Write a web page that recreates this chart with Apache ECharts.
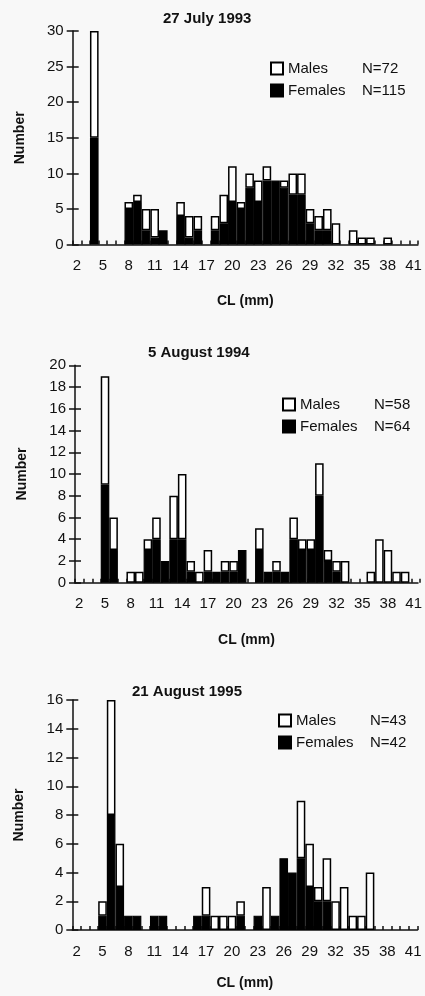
<!DOCTYPE html>
<html><head><meta charset="utf-8">
<script src="https://cdn.jsdelivr.net/npm/echarts@6/dist/echarts.min.js"></script>
<style>html,body{margin:0;padding:0;background:#f8f8f8}#c{width:425px;height:996px}</style>
</head><body><div id="c"></div>
<script>
const categories = ['2','3','4','5','6','7','8','9','10','11','12','13','14','15','16','17','18','19','20','21','22','23','24','25','26','27','28','29','30','31','32','33','34','35','36','37','38','39','40','41'];

const titles = ['27 July 1993', '5 August 1994', '21 August 1995'];
const maleN = ['N=72', 'N=58', 'N=43'];
const femaleN = ['N=115', 'N=64', 'N=42'];
const yMax = [30, 20, 16];
const yStep = [5, 2, 2];

const females1993 = [0,0,15,0,0,0,5,6,2,1, 2,0,4,1,2,0,2,3,6,5, 8,6,9,9,8,7,7,3,2,2, 0,0,0,0,0,0,0,0,0,0];
const males1993   = [0,0,15,0,0,0,1,1,3,4, 0,0,2,3,2,0,2,4,5,1, 2,3,2,0,1,3,3,2,2,3, 3,0,2,1,1,0,1,0,0,0];
const females1994 = [0,0,0,9,3,0,0,0,3,4, 2,4,4,1,0,1,1,1,1,3, 0,3,1,1,1,4,3,3,8,2, 1,0,0,0,0,0,0,0,0,0];
const males1994   = [0,0,0,10,3,0,1,1,1,2, 0,4,6,1,1,2,0,1,1,0, 0,2,0,1,0,2,1,1,3,1, 1,2,0,0,1,4,3,1,1,0];
const females1995 = [0,0,0,1,8,3,1,1,0,1, 1,0,0,0,1,1,0,0,0,1, 0,1,0,1,5,4,5,3,2,2, 0,0,0,0,0,0,0,0,0,0];
const males1995   = [0,0,0,1,8,3,0,0,0,0, 0,0,0,0,0,2,1,1,1,1, 0,0,3,0,0,0,4,3,1,3, 2,3,1,1,4,0,0,0,0,0];

const femalesAll = [females1993, females1994, females1995];
const malesAll = [males1993, males1994, males1995];

const grids = [
  {left: 72.7, top: 31, width: 345.2, height: 213.6},
  {left: 75, top: 365.3, width: 345.2, height: 217.4},
  {left: 72.3, top: 700, width: 345.2, height: 230}
];
const titlePos = [[158, 6], [143, 340], [127, 679]];
const legendPos = [[265, 56], [277, 392], [273, 708]];
const xNameGap = [50, 50, 46];

const FONT = '"Liberation Sans", Arial, sans-serif';
const INK = '#111';
const CLEAR = 'rgba(0,0,0,0)';

const nz = a => a.map(v => v === 0 ? null : v);

const option = {
  backgroundColor: '#f8f8f8',
  animation: false,
  textStyle: {fontFamily: FONT, color: INK},
  title: titles.map((t, i) => ({
    text: t, left: titlePos[i][0], top: titlePos[i][1],
    textStyle: {fontFamily: FONT, fontWeight: 'bold', fontSize: 15, color: INK}
  })),
  legend: titles.map((t, i) => ({
    orient: 'vertical', left: legendPos[i][0], top: legendPos[i][1],
    icon: 'rect',
    itemWidth: 12, itemHeight: 12, itemGap: 7, data: ['Males', 'Females'],
    selectedMode: false,
    formatter: name => name === 'Males' ? '{a|Males}{b|' + maleN[i] + '}' : '{a|Females}{b|' + femaleN[i] + '}',
    textStyle: {fontFamily: FONT, fontSize: 15, color: INK,
      rich: {a: {width: 74, fontSize: 15, fontFamily: FONT, color: INK}, b: {fontSize: 15, fontFamily: FONT, color: INK}}}
  })),
  grid: grids.concat(grids.map(g => Object.assign({}, g))),
  xAxis: [],
  yAxis: [],
  series: []
};

for (let i = 0; i < 3; i++) {
  option.xAxis.push({
    type: 'category', gridIndex: i, data: categories, position: 'bottom',
    name: 'CL (mm)', nameLocation: 'middle', nameGap: xNameGap[i],
    nameTextStyle: {fontFamily: FONT, fontWeight: 'bold', fontSize: 14, color: INK},
    axisLine: {lineStyle: {color: INK, width: 1.5}},
    axisTick: {interval: 0, length: 5, lineStyle: {color: INK, width: 1.5}},
    axisLabel: {interval: 2, fontFamily: FONT, fontSize: 15, color: INK, margin: 14},
    splitLine: {show: false}
  });
  option.yAxis.push({
    type: 'value', gridIndex: i, min: 0, max: yMax[i], interval: yStep[i], position: 'left',
    name: 'Number', nameLocation: 'middle', nameGap: 46, nameRotate: 90,
    nameTextStyle: {fontFamily: FONT, fontWeight: 'bold', fontSize: 14, color: INK},
    axisLine: {show: true, lineStyle: {color: INK, width: 1.5}},
    axisTick: {show: true, length: 6, lineStyle: {color: INK, width: 1.5}},
    axisLabel: {fontFamily: FONT, fontSize: 15, color: INK, margin: 9},
    splitLine: {show: false}
  });
}
// inner halves of the crossing ticks, on twin grids
for (let i = 0; i < 3; i++) {
  option.xAxis.push({
    type: 'category', gridIndex: 3 + i, data: categories, position: 'bottom',
    axisLine: {show: true, lineStyle: {color: CLEAR}},
    axisTick: {show: true, interval: 0, inside: true, length: 4, lineStyle: {color: INK, width: 1.5}},
    axisLabel: {show: false}, splitLine: {show: false}
  });
  option.yAxis.push({
    type: 'value', gridIndex: 3 + i, min: 0, max: yMax[i], interval: yStep[i], position: 'left',
    axisLine: {show: true, lineStyle: {color: CLEAR}},
    axisTick: {show: true, inside: true, length: 6, lineStyle: {color: INK, width: 1.5}},
    axisLabel: {show: false}, splitLine: {show: false}
  });
}
for (let i = 0; i < 3; i++) {
  option.series.push({
    name: 'Females', type: 'bar', stack: 'p' + i,
    xAxisIndex: i, yAxisIndex: i,
    barCategoryGap: '0%',
    itemStyle: {color: '#000', borderColor: '#000', borderWidth: 1.2},
    data: nz(femalesAll[i])
  });
  option.series.push({
    name: 'Males', type: 'bar', stack: 'p' + i,
    xAxisIndex: i, yAxisIndex: i,
    barCategoryGap: '0%',
    itemStyle: {color: '#fff', borderColor: '#000', borderWidth: 1.5},
    data: nz(malesAll[i])
  });
}

const chart = echarts.init(document.getElementById('c'), null, {renderer: 'canvas'});
chart.setOption(option);
</script></body></html>
